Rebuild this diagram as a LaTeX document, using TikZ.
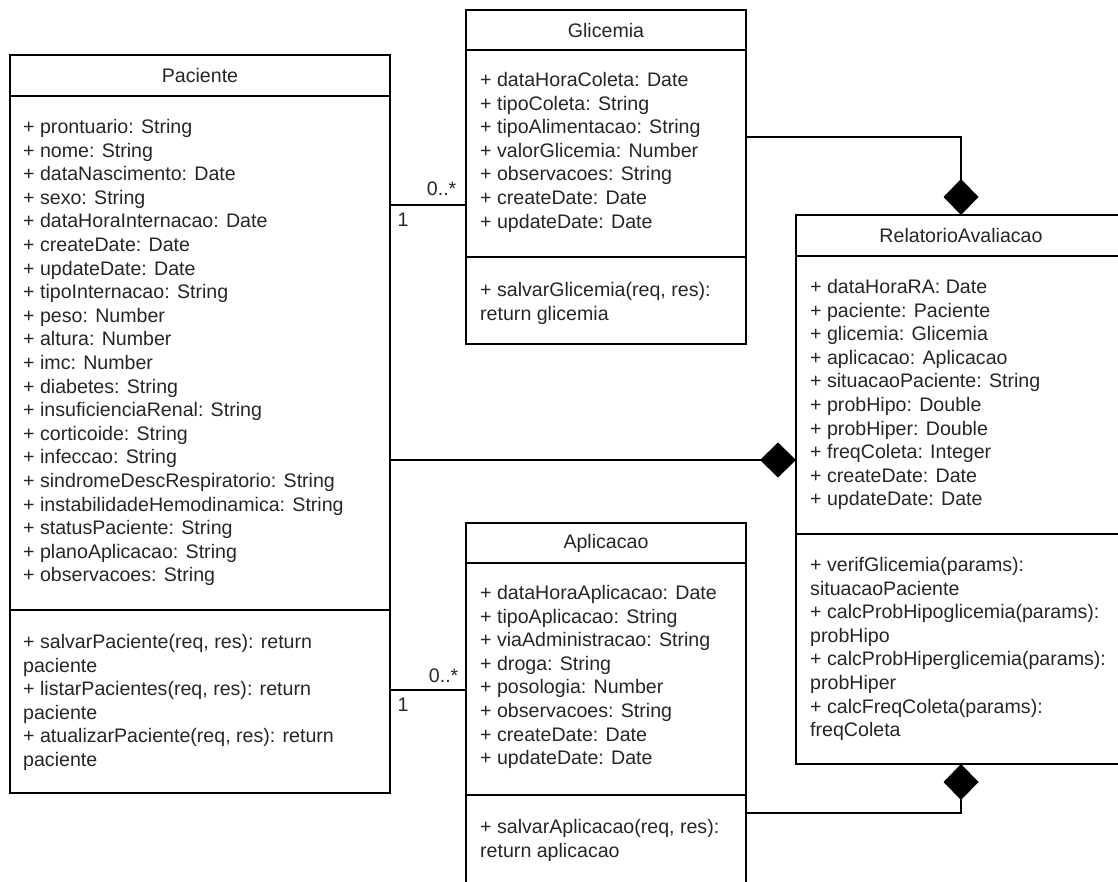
\documentclass[tikz,border=0pt]{standalone}
\usepackage{fontspec}
\setmainfont{Liberation Sans}
\usetikzlibrary{positioning,arrows.meta}

\tikzset{
	classpart/.style={draw, line width=2pt, inner sep=0pt, outer sep=0pt, text=black!85},
	members/.style={inner sep=0pt, align=left, anchor=north west, text=black!85},
	assoc/.style={line width=1.3pt},
	compose/.style={assoc, -{Diamond[length=36pt,width=35pt]}},
	mult/.style={inner sep=7pt, text=black!85}
}

\begin{document}
\begin{tikzpicture}[
	x=1pt, y=-1pt,
	font=\fontsize{19.6}{23.6}\selectfont
	]
	\useasboundingbox (0,0) rectangle (1118,882);
	
	% Paciente
	\node[classpart, anchor=north west, minimum width=380pt, minimum height=41pt] (pacT) at (10,55) {Paciente};
	\node[classpart, below=0pt of pacT, minimum width=380pt, minimum height=514pt] (pacA) {};
	\node[classpart, below=0pt of pacA, minimum width=380pt, minimum height=183pt] (pacM) {};
	\node[members, below right=23pt and 13pt of pacA.north west] (pacAttr) {+ prontuario: String\\
		+ nome: String\\
		+ dataNascimento: Date\\
		+ sexo: String\\
		+ dataHoraInternacao: Date\\
		+ createDate: Date\\
		+ updateDate: Date\\
		+ tipoInternacao: String\\
		+ peso: Number\\
		+ altura: Number\\
		+ imc: Number\\
		+ diabetes: String\\
		+ insuficienciaRenal: String\\
		+ corticoide: String\\
		+ infeccao: String\\
		+ sindromeDescRespiratorio: String\\
		+ instabilidadeHemodinamica: String\\
		+ statusPaciente: String\\
		+ planoAplicacao: String\\
		+ observacoes: String};
	\node[members, below right=24pt and 13pt of pacM.north west] (pacMeth) {+ salvarPaciente(req, res): return\\
		paciente\\
		+ listarPacientes(req, res): return\\
		paciente\\
		+ atualizarPaciente(req, res): return\\
		paciente};
	
	% Glicemia
	\node[classpart, anchor=north west, minimum width=280pt, minimum height=40pt] (gliT) at (466,10) {Glicemia};
	\node[classpart, below=0pt of gliT, minimum width=280pt, minimum height=207pt] (gliA) {};
	\node[classpart, below=0pt of gliA, minimum width=280pt, minimum height=87pt] (gliM) {};
	\node[members, below right=22pt and 14pt of gliA.north west] (gliAttr) {+ dataHoraColeta: Date\\
		+ tipoColeta: String\\
		+ tipoAlimentacao: String\\
		+ valorGlicemia: Number\\
		+ observacoes: String\\
		+ createDate: Date\\
		+ updateDate: Date};
	\node[members, below right=25pt and 14pt of gliM.north west] (gliMeth) {+ salvarGlicemia(req, res):\\
		return glicemia};
	
	% RelatorioAvaliacao
	\node[classpart, anchor=north west, minimum width=330pt, minimum height=41pt] (relT) at (796,215) {RelatorioAvaliacao};
	\node[classpart, below=0pt of relT, minimum width=330pt, minimum height=278pt] (relA) {};
	\node[classpart, below=0pt of relA, minimum width=330pt, minimum height=230pt] (relM) {};
	\node[members, below right=23pt and 14pt of relA.north west] (relAttr) {+ dataHoraRA: Date\\
		+ paciente: Paciente\\
		+ glicemia: Glicemia\\
		+ aplicacao: Aplicacao\\
		+ situacaoPaciente: String\\
		+ probHipo: Double\\
		+ probHiper: Double\\
		+ freqColeta: Integer\\
		+ createDate: Date\\
		+ updateDate: Date};
	\node[members, below right=23pt and 14pt of relM.north west] (relMeth) {+ verifGlicemia(params):\\
		situacaoPaciente\\
		+ calcProbHipoglicemia(params):\\
		probHipo\\
		+ calcProbHiperglicemia(params):\\
		probHiper\\
		+ calcFreqColeta(params):\\
		freqColeta};
	
	% Aplicacao
	\node[classpart, anchor=north west, minimum width=280pt, minimum height=40pt] (aplT) at (466,523) {Aplicacao};
	\node[classpart, below=0pt of aplT, minimum width=280pt, minimum height=232pt] (aplA) {};
	\node[classpart, below=0pt of aplA, minimum width=280pt, minimum height=105pt] (aplM) {};
	\node[members, below right=22pt and 14pt of aplA.north west] (aplAttr) {+ dataHoraAplicacao: Date\\
		+ tipoAplicacao: String\\
		+ viaAdministracao: String\\
		+ droga: String\\
		+ posologia: Number\\
		+ observacoes: String\\
		+ createDate: Date\\
		+ updateDate: Date};
	\node[members, below right=24pt and 14pt of aplM.north west] (aplMeth) {+ salvarAplicacao(req, res):\\
		return aplicacao};
	
	% levels of the connectors
	\coordinate (lvPG) at (0,205);
	\coordinate (lvPA) at (0,690);
	\coordinate (lvPR) at (0,460);
	\coordinate (lvGR) at (0,137);
	\coordinate (lvAR) at (0,813);
	
	\draw[assoc] (pacA.east |- lvPG) -- (gliA.west |- lvPG)
		node[mult, pos=0, anchor=north west] (mulPG1) {1}
		node[mult, pos=1, anchor=south east, inner sep=9pt] (mulPG2) {0..*};
	\draw[assoc] (pacM.east |- lvPA) -- (aplA.west |- lvPA)
		node[mult, pos=0, anchor=north west] (mulPA1) {1}
		node[mult, pos=1, anchor=south east] (mulPA2) {0..*};
	\draw[compose] (pacA.east |- lvPR) -- (relA.west |- lvPR);
	\draw[compose] (gliA.east |- lvGR) -| (relT.north);
	\draw[compose] (aplM.east |- lvAR) -| (relM.south);
\end{tikzpicture}
\end{document}
